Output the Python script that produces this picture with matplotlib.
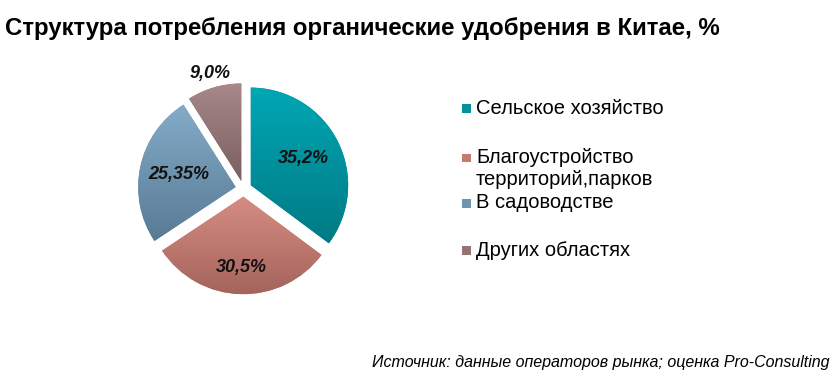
import numpy as np
import matplotlib
matplotlib.use("Agg")
import matplotlib.pyplot as plt
from matplotlib.colors import LinearSegmentedColormap

categories = ["Сельское хозяйство", "Благоустройство\nтерриторий,парков", "В садоводстве", "Других областях"]
values = [35.2, 30.5, 25.35, 9.0]
value_labels = ["35,2%", "30,5%", "25,35%", "9,0%"]
title = "Структура потребления органические удобрения в Китае, %"
source = "Источник: данные операторов рынка; оценка Pro-Consulting"

top_colors = ["#00A7B5", "#D68D83", "#84ACC8", "#A88888"]
bottom_colors = ["#007A84", "#A4645C", "#587A95", "#7A5F5F"]
mid_colors = ["#00919D", "#C47A70", "#6F94B0", "#937373"]
label_radius = [0.69, 0.81, 0.68, 1.23]

plt.rcParams['font.family'] = ['Liberation Sans', 'DejaVu Sans']

W, H = 834, 380
fig = plt.figure(figsize=(W / 100, H / 100), dpi=100)
fig.patch.set_facecolor("white")

cx, cy = 243.5, 188.7
half = 130
R = 97.5
lim = half / R
ax = fig.add_axes([(cx - half) / W, (H - cy - half) / H, 2 * half / W, 2 * half / H])
ax.axis("off")

explode = [8 / R] * len(values)
wedges, _ = ax.pie(values, startangle=90, counterclock=False, explode=explode,
                   colors=mid_colors, radius=1.0, normalize=True,
                   wedgeprops=dict(linewidth=0))

for i, w in enumerate(wedges):
    cmap = LinearSegmentedColormap.from_list("g%d" % i, [bottom_colors[i], top_colors[i]])
    ext = w.get_path().get_extents()
    grad = np.linspace(0, 1, 256).reshape(-1, 1)
    im = ax.imshow(grad, cmap=cmap, origin="lower", aspect="auto",
                   extent=[ext.x0, ext.x1, ext.y0, ext.y1], zorder=2)
    im.set_clip_path(w)
    ang = np.deg2rad((w.theta1 + w.theta2) / 2)
    ax.text(label_radius[i] * np.cos(ang), label_radius[i] * np.sin(ang), value_labels[i],
            ha="center", va="center", fontsize=13, fontweight="bold", fontstyle="italic",
            color="#111111", zorder=5)
ax.set_xlim(-lim, lim)
ax.set_ylim(-lim, lim)
ax.set_aspect("auto")

fig.text(5 / W, 1 - 28 / H, title, fontsize=17.3, fontweight="bold", ha="left", va="center", color="black")

legend_y = [108, 158, 203, 250]
for i, (lab, y) in enumerate(zip(categories, legend_y)):
    fig.patches.append(plt.Rectangle((462 / W, 1 - (y + 4.5) / H), 9 / W, 9 / H,
                                     transform=fig.transFigure, facecolor=mid_colors[i],
                                     edgecolor="none"))
    lines = lab.split("\n")
    for j, ln in enumerate(lines):
        fig.text(476 / W, 1 - (y + 22 * j) / H, ln, fontsize=14.5, ha="left", va="center",
                 color="black")

fig.text(829 / W, 1 - 363 / H, source, fontsize=11.5, fontstyle="italic", ha="right", va="center", color="black")

fig.savefig("out.png", dpi=100)
